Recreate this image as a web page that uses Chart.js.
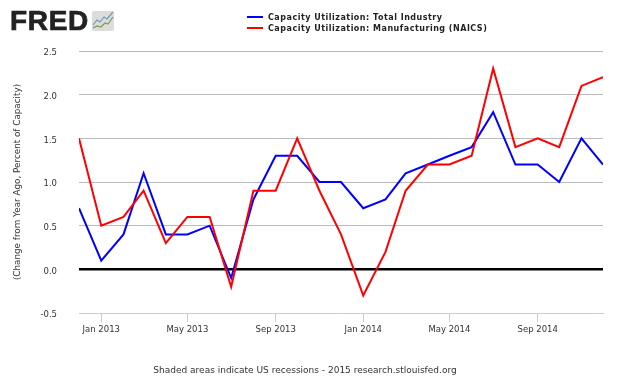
<!DOCTYPE html>
<html>
<head>
<meta charset="utf-8">
<script src="https://cdn.jsdelivr.net/npm/chart.js@4"></script>
<style>
  html, body { margin: 0; padding: 0; background: #fff; }
  #wrap { position: relative; width: 630px; height: 378px; overflow: hidden; font-family: "DejaVu Sans", sans-serif; }
  #wrap canvas#fredChart { position: absolute; left: 0; top: 0; }
  #logo { position: absolute; left: 10px; top: 5px; font: bold 28px "Liberation Sans", sans-serif; letter-spacing: 0.7px; color: #222; -webkit-text-stroke: 0.7px #222; line-height: 32px; }
  #logoIcon { position: absolute; left: 92px; top: 11px; }
  #legend { position: absolute; left: 247px; top: 12px; font: bold 8px "DejaVu Sans", sans-serif; letter-spacing: 0.5px; color: #222; }
  #legend div { height: 11px; line-height: 11px; white-space: nowrap; }
  #legend i { display: inline-block; width: 16px; height: 2px; margin-right: 5px; vertical-align: 2px; }
  #footer { position: absolute; left: 0; width: 610px; top: 364px; text-align: center; font-size: 9px; line-height: 12px; color: #333; }
</style>
</head>
<body>
<div id="wrap">
  <canvas id="fredChart" width="630" height="378"></canvas>
  <div id="logo">FRED</div>
  <svg id="logoIcon" width="22" height="20">
    <rect width="22" height="20" rx="2" fill="#dcdcdc"/>
    <polyline points="1,14 5,9 8,11 12,6 15,8 21,1" fill="none" stroke="#6f9ab8" stroke-width="1.2"/>
    <polyline points="1,17 5,15 9,16 13,12 16,13 21,6" fill="none" stroke="#7a9c55" stroke-width="1.2"/>
  </svg>
  <div id="legend"></div>
  <div id="footer">Shaded areas indicate US recessions - 2015 research.stlouisfed.org</div>
</div>
<script>
const months = ['2012-12', '2013-01', '2013-02', '2013-03', '2013-04', '2013-05', '2013-06', '2013-07', '2013-08', '2013-09', '2013-10', '2013-11', '2013-12',
  '2014-01', '2014-02', '2014-03', '2014-04', '2014-05', '2014-06', '2014-07', '2014-08', '2014-09', '2014-10', '2014-11', '2014-12'];
const totalIndustry = [0.7, 0.1, 0.4, 1.1, 0.4, 0.4, 0.5, -0.1, 0.8, 1.3, 1.3, 1.0, 1.0, 0.7, 0.8, 1.1, 1.2, 1.3, 1.4, 1.8, 1.2, 1.2, 1.0, 1.5, 1.2];
const manufacturing = [1.5, 0.5, 0.6, 0.9, 0.3, 0.6, 0.6, -0.2, 0.9, 0.9, 1.5, 0.9, 0.4, -0.3, 0.2, 0.9, 1.2, 1.2, 1.3, 2.3, 1.4, 1.5, 1.4, 2.1, 2.2];
const xTickMonths = ['2013-01', '2013-05', '2013-09', '2014-01', '2014-05', '2014-09'];
const xTickLabels = ['Jan 2013', 'May 2013', 'Sep 2013', 'Jan 2014', 'May 2014', 'Sep 2014'];
const yTicks = [-0.5, 0, 0.5, 1, 1.5, 2, 2.5];

// x axis is real time, months are not all the same width
const toTime = m => Date.parse(m + '-01T00:00:00Z');
const points = values => values.map((v, i) => ({ x: toTime(months[i]), y: v }));

const ctx = document.getElementById('fredChart').getContext('2d');
const fredChart = new Chart(ctx, {
  type: 'line',
  data: {
    datasets: [
      // order: red has to sit on top of blue
      { label: 'Capacity Utilization: Total Industry', data: points(totalIndustry), borderColor: '#0000ff', borderWidth: 2, pointRadius: 0, tension: 0, order: 1 },
      { label: 'Capacity Utilization: Manufacturing (NAICS)', data: points(manufacturing), borderColor: '#ff0000', borderWidth: 2, pointRadius: 0, tension: 0, order: 0 }
    ]
  },
  options: {
    responsive: false,
    animation: false,
    layout: { padding: { top: 51, right: 27, left: 0, bottom: 0 } },
    plugins: { legend: { display: false }, tooltip: { enabled: false } },
    scales: {
      x: {
        type: 'linear',
        min: toTime(months[0]),
        max: toTime(months[months.length - 1]),
        afterBuildTicks: axis => { axis.ticks = xTickMonths.map(m => ({ value: toTime(m) })); },
        afterFit: axis => { axis.height = 65; },
        grid: { drawOnChartArea: false, drawTicks: true, tickLength: 9, color: '#c0d0e0' },
        border: { display: true, color: '#c0d0e0', width: 1 },
        ticks: {
          autoSkip: false,
          maxRotation: 0,
          padding: 3,
          color: '#333',
          font: { family: 'DejaVu Sans', size: 8.5 },
          callback: value => xTickLabels[xTickMonths.findIndex(m => toTime(m) === value)]
        }
      },
      y: {
        min: -0.5,
        max: 2.5,
        afterBuildTicks: axis => { axis.ticks = yTicks.map(v => ({ value: v })); },
        afterFit: axis => { axis.width = 79; },
        title: { display: true, text: '(Change from Year Ago, Percent of Capacity)', color: '#333', font: { family: 'DejaVu Sans', size: 8.8 }, padding: { top: 12, bottom: 0 } },
        border: { display: false },
        grid: {
          drawTicks: false,
          color: c => c.tick.value === 0 ? '#000000' : (c.tick.value === -0.5 ? 'transparent' : '#bbbbbb'),
          lineWidth: c => c.tick.value === 0 ? 2.5 : 1
        },
        ticks: {
          padding: 22,
          labelOffset: 2,
          color: '#333',
          font: { family: 'DejaVu Sans', size: 8.5 },
          callback: value => value.toFixed(1)
        }
      }
    }
  }
});

const legendBox = document.getElementById('legend');
fredChart.data.datasets.forEach(ds => {
  const row = document.createElement('div');
  row.innerHTML = '<i style="background:' + ds.borderColor + '"></i>' + ds.label;
  legendBox.appendChild(row);
});
</script>
</body>
</html>
